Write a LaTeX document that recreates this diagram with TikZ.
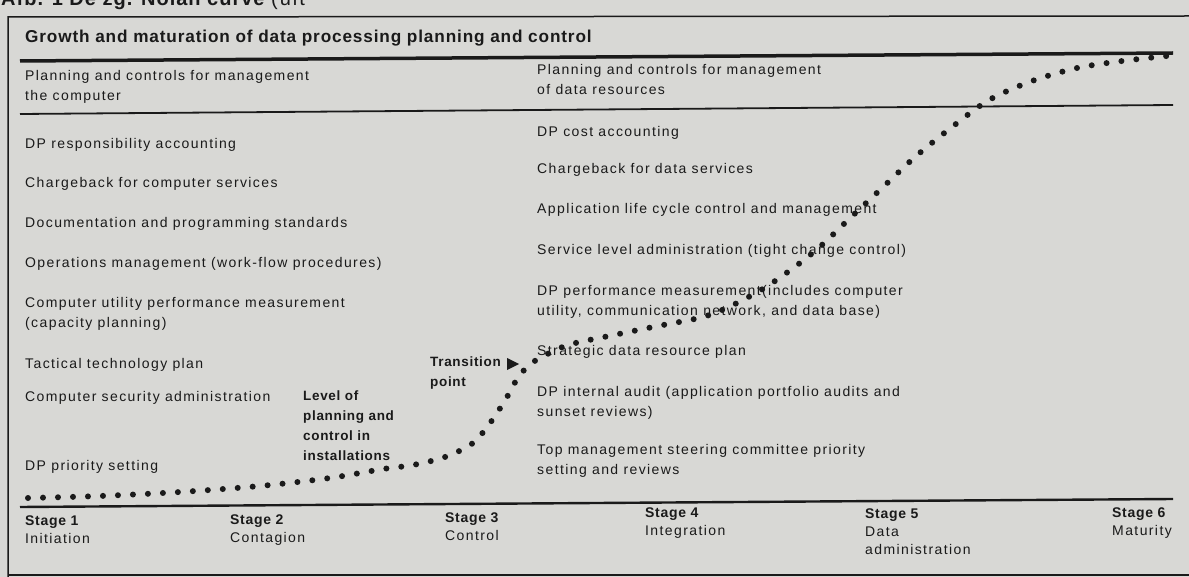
\documentclass[tikz,border=0pt]{standalone}
\usepackage{fontspec}
\setmainfont{Liberation Sans}[LetterSpace=10,BoldFeatures={LetterSpace=5}]

\definecolor{paper}{RGB}{216,216,213}
\definecolor{ink}{RGB}{26,26,26}

\tikzset{
  item/.style={anchor=west, inner sep=0pt, align=left, text=ink,
    font=\fontsize{14}{20}\selectfont},
  boldtxt/.style={item, font=\fontsize{13.5}{20}\selectfont\bfseries},
  stagetxt/.style={item, font=\fontsize{14}{18}\selectfont},
  titletxt/.style={item, font=\fontsize{17.2}{20}\selectfont\bfseries},
}

\begin{document}
\begin{tikzpicture}[x=1pt,y=-1pt]
% Paper
\fill[paper] (0,0) rectangle (1189,577);
\useasboundingbox (0,0) rectangle (1189,577);
\clip (0,0) rectangle (1189,577);

% Caption, cut off by the scan
\node[anchor=base west, inner sep=0pt, text=ink, font=\fontsize{20}{20}\selectfont\bfseries] (cap) at (1,6) {Afb. 1 De zg. Nolan curve \mdseries(uit};

% Frame and rules
\draw[ink, line width=1.5] (1189,16) -- (8,17) -- (8,577);
\draw[ink, line width=1.5] (8,575) -- (1189,575);
\draw[ink, line width=3.5] (20,61) -- (1173,53);
\draw[ink, line width=1.8] (20,114) -- (1173,105);
\draw[ink, line width=2.4] (20,507) -- (1173,499);

% Title and column heads
\node[titletxt] (title) at (25,38) {Growth and maturation of data processing planning and control};
\node[item] (headl) at (25,87) {Planning and controls for management\\the computer};
\node[item] (headr) at (537,79) {Planning and controls for management\\of data resources};

% Management of the computer
\node[item] (l1) at (25,145) {DP responsibility accounting};
\node[item] (l2) at (25,184) {Chargeback for computer services};
\node[item] (l3) at (25,224) {Documentation and programming standards};
\node[item] (l4) at (25,264) {Operations management (work-flow procedures)};
\node[item] (l5) at (25,314) {Computer utility performance measurement\\(capacity planning)};
\node[item] (l6) at (25,365) {Tactical technology plan};
\node[item] (l7) at (25,398) {Computer security administration};
\node[item] (l8) at (25,467) {DP priority setting};

% Management of data resources
\node[item] (r1) at (537,133) {DP cost accounting};
\node[item] (r2) at (537,170) {Chargeback for data services};
\node[item] (r3) at (537,210) {Application life cycle control and management};
\node[item] (r4) at (537,251) {Service level administration (tight change control)};
\node[item] (r5) at (537,302) {DP performance measurement(includes computer\\utility, communication network, and data base)};
\node[item] (r6) at (537,352) {Strategic data resource plan};
\node[item] (r7) at (537,403) {DP internal audit (application portfolio audits and\\sunset reviews)};
\node[item] (r8) at (537,461) {Top management steering committee priority\\setting and reviews};

% Curve
\draw[ink, line width=6, line cap=round, dash pattern=on 0pt off 15pt]
  plot[smooth, tension=0.5] coordinates {(28,498) (100,496) (180,492) (260,486)
  (330,478) (383,469) (413,465) (445,457) (473,443) (493,419) (510,392)
  (517,379) (528,366) (540,358) (568,345) (614,335) (658,326) (703,317)
  (733,305) (766,287) (800,263) (823,244) (847,221) (881,189) (915,157)
  (952,127) (989,100) (1032,81) (1077,68) (1122,61) (1167,56)};

% Labels on the curve
\node[boldtxt] (level) at (303,426) {Level of\\planning and\\control in\\installations};
\node[boldtxt] (trans) at (430,373) {Transition\\point};
\fill[ink] (507,358) -- (519,364) -- (507,370) -- cycle;

% Stages
\node[stagetxt] (s1) at (25,530) {\textbf{Stage 1}\\Initiation};
\node[stagetxt] (s2) at (230,530) {\textbf{Stage 2}\\Contagion};
\node[stagetxt] (s3) at (445,527) {\textbf{Stage 3}\\Control};
\node[stagetxt] (s4) at (645,523) {\textbf{Stage 4}\\Integration};
\node[stagetxt] (s5) at (865,532) {\textbf{Stage 5}\\Data\\administration};
\node[stagetxt] (s6) at (1112,523) {\textbf{Stage 6}\\Maturity};
\end{tikzpicture}
\end{document}
